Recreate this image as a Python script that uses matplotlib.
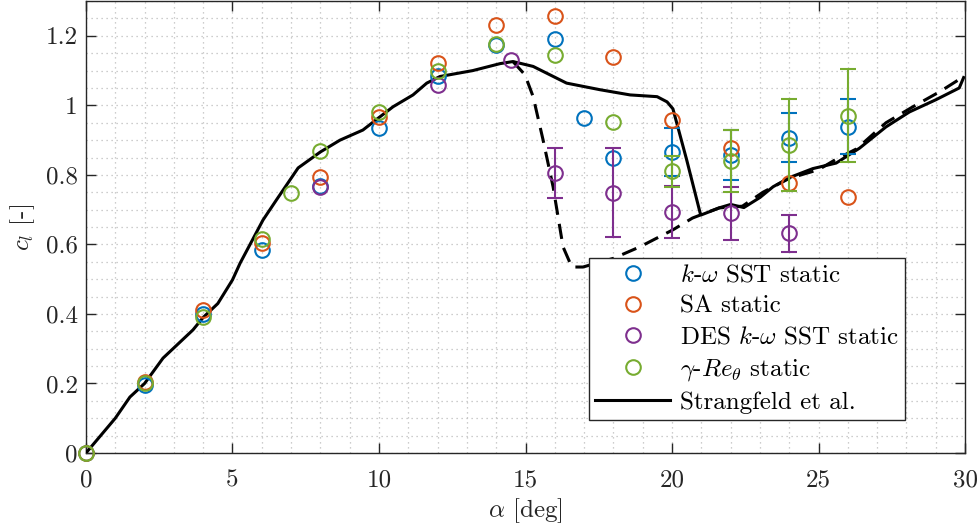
import numpy as np
import matplotlib
matplotlib.use('Agg')
import matplotlib.pyplot as plt
from matplotlib.ticker import MultipleLocator, FuncFormatter

plt.rcParams['font.family'] = 'serif'
plt.rcParams['font.serif'] = ['cmr10']
plt.rcParams['mathtext.fontset'] = 'cm'
plt.rcParams['axes.formatter.use_mathtext'] = True

# k-omega SST static
sst_alpha = [0, 2, 4, 6, 8, 10, 12, 14, 16, 17, 18, 20, 22, 24, 26]
sst_cl = [0, 0.197, 0.40, 0.585, 0.767, 0.935, 1.085, 1.175, 1.19, 0.963, 0.849, 0.866, 0.858, 0.907, 0.939]
sst_err = [np.nan] * 11 + [0.07, 0.072, 0.071, 0.079]

# SA static
sa_alpha = [0, 2, 4, 6, 8, 10, 12, 14, 16, 18, 20, 22, 24, 26]
sa_cl = [0, 0.205, 0.41, 0.605, 0.795, 0.967, 1.122, 1.23, 1.258, 1.14, 0.958, 0.877, 0.776, 0.737]

# DES k-omega SST static
des_alpha = [8, 12, 14.5, 16, 18, 20, 22, 24]
des_cl = [0.765, 1.058, 1.131, 0.805, 0.748, 0.693, 0.69, 0.632]
des_err = [np.nan, np.nan, np.nan, 0.072, 0.128, 0.075, 0.076, 0.054]

# gamma-Re_theta static
gre_alpha = [0, 2, 4, 6, 7, 8, 10, 12, 14, 16, 18, 20, 22, 24, 26]
gre_cl = [0, 0.2, 0.39, 0.615, 0.748, 0.869, 0.981, 1.10, 1.177, 1.145, 0.952, 0.81, 0.84, 0.886, 0.97]
gre_err = [np.nan] * 11 + [0.045, 0.09, 0.132, 0.134]

# Strangfeld et al. (upstroke, solid)
exp_alpha = [0, 1.0, 1.5, 2.0, 2.63, 3.65, 4.0, 4.5, 5.0, 5.26, 6.04, 6.5, 7.24, 8.0, 8.67,
             9.45, 9.97, 10.48, 11.16, 11.63, 12.08, 13.2, 14.13, 14.57, 15.26, 16.4, 17.54,
             18.57, 19.49, 19.83, 20.03, 20.5, 20.96, 21.0, 21.64, 22.0, 22.45, 23.0, 23.45,
             24.03, 24.8, 25.6, 26.4, 27.3, 28.1, 29.0, 29.8, 29.95]
exp_cl = [0, 0.10, 0.161, 0.20, 0.273, 0.354, 0.39, 0.43, 0.498, 0.546, 0.67, 0.728, 0.82, 0.866, 0.90,
          0.929, 0.963, 0.996, 1.03, 1.064, 1.083, 1.10, 1.12, 1.126, 1.112, 1.064, 1.045,
          1.03, 1.025, 1.01, 0.99, 0.843, 0.69, 0.685, 0.706, 0.715, 0.706, 0.735, 0.766,
          0.793, 0.818, 0.834, 0.877, 0.938, 0.981, 1.016, 1.05, 1.08]

# Strangfeld et al. (downstroke, dashed)
down_alpha = [14.57, 14.98, 15.26, 15.6, 15.94, 16.28, 16.58, 16.96, 18.0, 18.9, 20.03, 20.7,
              21.6, 22.4, 23.1, 24.0, 25.0, 25.6, 26.3, 27.3, 28.2, 29.15, 29.9]
down_cl = [1.126, 1.088, 1.025, 0.90, 0.766, 0.593, 0.535, 0.535, 0.56, 0.593, 0.642, 0.676,
           0.705, 0.71, 0.75, 0.79, 0.815, 0.845, 0.875, 0.95, 0.995, 1.04, 1.08]

blue = '#0072BD'
red = '#D95319'
purple = '#7E2F8E'
green = '#77AC30'
axcol = '#262626'
fs = 18

fig = plt.figure(figsize=(9.79, 5.28), dpi=100)
ax = fig.add_axes([0.0878, 0.142, 0.898, 0.856])

#black experimental curves
ax.plot(exp_alpha, exp_cl, color='k', lw=2.2, label='Strangfeld et al.', zorder=3)
ax.plot(down_alpha, down_cl, color='k', lw=2.2, dashes=(5, 3), zorder=3)

mk = dict(marker='o', ms=10.5, mfc='none', mew=1.5, ls='none', clip_on=False, zorder=4)
eb = dict(fmt='none', capsize=6, elinewidth=1.5, capthick=1.5, zorder=4)

series = [
    (sst_alpha, sst_cl, sst_err, blue, r'$k$-$\omega$ SST static'),
    (sa_alpha, sa_cl, None, red, 'SA static'),
    (des_alpha, des_cl, des_err, purple, r'DES $k$-$\omega$ SST static'),
    (gre_alpha, gre_cl, gre_err, green, r'$\gamma$-$Re_\theta$ static'),
]
for a, c, e, col, lab in series:
    ax.plot(a, c, color=col, mec=col, label=lab, **mk)
    if e is not None:
        a = np.array(a); c = np.array(c); e = np.array(e)
        m = ~np.isnan(e)
        ax.errorbar(a[m], c[m], yerr=e[m], ecolor=col, **eb)

ax.set_xlim(0, 30)
ax.set_ylim(0, 1.3)
ax.set_xticks(range(0, 31, 5))
ax.set_yticks(np.arange(0, 1.21, 0.2))
ax.xaxis.set_minor_locator(MultipleLocator(1))
ax.yaxis.set_minor_locator(MultipleLocator(0.05))
fmt = FuncFormatter(lambda v, p: '%g' % round(v, 2))
ax.xaxis.set_major_formatter(fmt)
ax.yaxis.set_major_formatter(fmt)
ax.grid(which='both', linestyle=(0, (1, 3)), color='#bdbdbd', lw=0.9)
ax.tick_params(which='major', direction='in', length=7, width=1, top=True, right=True,
               labelsize=fs, colors=axcol)
ax.tick_params(axis='x', which='major', pad=12)
ax.tick_params(axis='y', which='major', pad=6)
ax.tick_params(which='minor', length=0)
for s in ax.spines.values():
    s.set_color(axcol)
    s.set_linewidth(1)
ax.set_axisbelow(True)

ax.set_xlabel(r'$\alpha$ [deg]', fontsize=fs, color=axcol, labelpad=3)
ax.set_ylabel(r'$c_l$ [-]', fontsize=fs, color=axcol, labelpad=6)

handles, labels = ax.get_legend_handles_labels()
order = [1, 2, 3, 4, 0]
leg = ax.legend([handles[i] for i in order], [labels[i] for i in order],
                loc='lower right', bbox_to_anchor=(0.932, 0.073), fontsize=fs,
                fancybox=False, framealpha=1, edgecolor=axcol, borderpad=0.25,
                labelspacing=0.34, handlelength=3.0, handletextpad=0.4, borderaxespad=0)
leg.get_frame().set_linewidth(1)
leg.set_zorder(5)

fig.savefig('out.png', dpi=100)
